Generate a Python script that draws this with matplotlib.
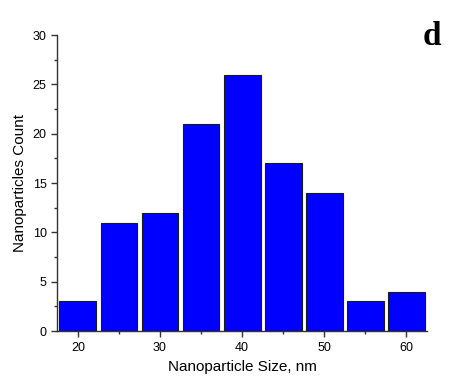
import matplotlib
matplotlib.use("Agg")
import matplotlib.pyplot as plt
from matplotlib.ticker import MultipleLocator

# histogram data
bin_centers = [20, 25, 30, 35, 40, 45, 50, 55, 60]
counts = [3, 11, 12, 21, 26, 17, 14, 3, 4]

plt.rcParams['font.family'] = ['Liberation Sans', 'DejaVu Sans']

fig = plt.figure(figsize=(4.58, 3.81), dpi=100)
ax = fig.add_axes([0.1245, 0.131, 0.808, 0.777])

ax.bar(bin_centers, counts, width=4.5, color='#0000ff',
       edgecolor='#1a1a1a', linewidth=0.8, zorder=2)

ax.set_xlim(17.45, 62.55)
ax.set_ylim(0, 30)
ax.xaxis.set_major_locator(MultipleLocator(10))
ax.xaxis.set_minor_locator(MultipleLocator(5))
ax.yaxis.set_major_locator(MultipleLocator(5))
ax.yaxis.set_minor_locator(MultipleLocator(2.5))

for s in ['top', 'right']:
    ax.spines[s].set_visible(False)
for s in ['left', 'bottom']:
    ax.spines[s].set_linewidth(1.0)
    ax.spines[s].set_color('#333333')

ax.tick_params(which='major', direction='out', length=4, width=1, color='#333333', labelsize=9)
ax.tick_params(which='minor', direction='out', length=2.5, width=1, color='#333333')

ax.set_xlabel('Nanoparticle Size, nm', fontsize=11, labelpad=5)
ax.set_ylabel('Nanoparticles Count', fontsize=11, labelpad=4)

fig.text(0.944, 0.905, 'd', fontsize=24, fontweight='bold',
         family=['Liberation Serif', 'DejaVu Serif'], ha='center', va='center')

fig.savefig('out.png', dpi=100)
